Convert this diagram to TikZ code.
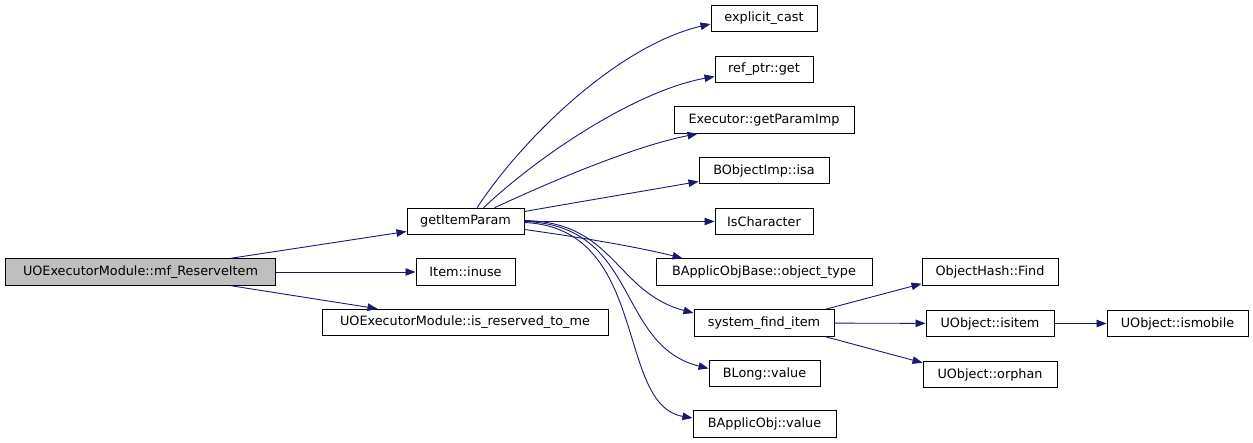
\documentclass[tikz,border=0pt]{standalone}
\usepackage{fontspec}
\setmainfont{DejaVu Sans}
\usetikzlibrary{arrows.meta}
\definecolor{edgeblue}{HTML}{191970}
\begin{document}
\begin{tikzpicture}[x=1pt,y=-1pt,
    fn/.style={draw=black,line width=1pt,minimum height=26.5pt,inner sep=0pt,font=\fontsize{12.8}{15}\selectfont},
    call/.style={draw=edgeblue,line width=0.9pt,-{Triangle[length=10pt,width=7.5pt]},edgeblue}]
        \useasboundingbox (0,0) rectangle (1253,443);
        \node[fn,fill=black!25,minimum width=270pt] (main) at (140.5,272) {UOExecutorModule::mf\_ReserveItem};
        \node[fn,minimum width=117pt] (gip) at (465.5,221.5) {getItemParam};
        \node[fn,minimum width=99pt] (inuse) at (465.5,272) {Item::inuse};
        \node[fn,minimum width=286pt] (isres) at (465,322.5) {UOExecutorModule::is\_reserved\_to\_me};
        \node[fn,minimum width=106pt] (cast) at (764,18.5) {explicit\_cast};
        \node[fn,minimum width=98pt] (refget) at (764,69.5) {ref\_ptr::get};
        \node[fn,minimum width=180pt] (getparam) at (764,120) {Executor::getParamImp};
        \node[fn,minimum width=130pt] (isa) at (764,170.5) {BObjectImp::isa};
        \node[fn,minimum width=98pt] (ischar) at (764,221.5) {IsCharacter};
        \node[fn,minimum width=216pt] (objtype) at (764,272) {BApplicObjBase::object\_type};
        \node[fn,minimum width=140pt] (finditem) at (764,323) {system\_find\_item};
        \node[fn,minimum width=111pt] (blong) at (764.5,373.5) {BLong::value};
        \node[fn,minimum width=143pt] (bapplic) at (764.5,424) {BApplicObj::value};
        \node[fn,minimum width=136pt] (hashfind) at (990,272) {ObjectHash::Find};
        \node[fn,minimum width=128pt] (isitem) at (990,323.5) {UObject::isitem};
        \node[fn,minimum width=141pt] (ismobile) at (1177.5,323.5) {UObject::ismobile};
        \node[fn,minimum width=134pt] (orphan) at (990,374.5) {UObject::orphan};
        % calls from mf_ReserveItem
        \draw[call] ([xshift=-45pt]main.north east) -- ([yshift=-10pt]gip.west);
        \draw[call] (main) -- (inuse);
        \draw[call] ([xshift=-45pt]main.south east) -- ([xshift=56pt]isres.north west);
        % calls from getItemParam
        \draw[call] ([xshift=11.5pt]gip.north) .. controls (525,135) and (620,45) .. ([yshift=-5.5pt]cast.west);
        \draw[call] ([xshift=18pt]gip.north) .. controls (545,150) and (640,90) .. ([yshift=-7pt]refget.west);
        \draw[call] ([xshift=29pt]gip.north) .. controls (565,175) and (640,145) .. ([xshift=24pt]getparam.south west);
        \draw[call] ([yshift=10pt]gip.east) .. controls (590,200) and (650,190) .. ([yshift=-11pt]isa.west);
        \draw[call] (gip) -- (ischar);
        \draw[call] ([yshift=-8pt]gip.east) .. controls (600,240) and (650,250) .. ([xshift=27pt]objtype.north west);
        \draw[call] ([yshift=1pt]gip.east) .. controls (615,222) and (615,292) .. ([yshift=10pt]finditem.west);
        \draw[call] ([yshift=0pt]gip.east) .. controls (640,225) and (615,345) .. ([yshift=5pt]blong.west);
        \draw[call] ([yshift=-1pt]gip.east) .. controls (650,228) and (615,405) .. ([yshift=6pt]bapplic.west);
        % calls from system_find_item
        \draw[call] ([xshift=-9pt]finditem.north east) -- ([xshift=0pt,yshift=2pt]hashfind.south west);
        \draw[call] (finditem) -- (isitem);
        \draw[call] ([xshift=-9pt]finditem.south east) -- ([yshift=-2pt]orphan.north west);
        \draw[call] (isitem) -- (ismobile);
\end{tikzpicture}
\end{document}
